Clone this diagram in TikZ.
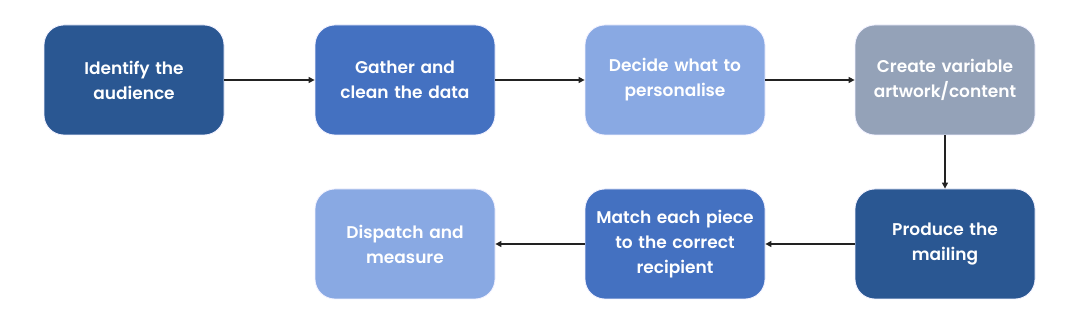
\documentclass[tikz,border=0pt]{standalone}
\usepackage{fontspec}
\setmainfont{Poppins}[BoldFont={* SemiBold}]
\usetikzlibrary{arrows.meta}
\definecolor{cdark}{HTML}{2A5792}
\definecolor{cmid}{HTML}{4471C1}
\definecolor{clight}{HTML}{89A9E3}
\definecolor{cgray}{HTML}{94A2B8}
\definecolor{carrow}{HTML}{222222}
\tikzset{
  stepbox/.style={draw=blue!6, line width=0.8pt, rounded corners=20pt, minimum width=180pt, minimum height=110pt,
    inner sep=2pt, text width=176pt, align=center, text=white, font=\fontsize{17}{25}\selectfont\bfseries},
  conn/.style={draw=carrow, line width=1.3pt, -{Triangle[length=6pt,width=6pt]}}
}
\begin{document}
\begin{tikzpicture}[x=1pt,y=1pt]
\useasboundingbox (0,0) rectangle (1080,321);
\node[stepbox, fill=cdark] (a) at (134,241) {Identify the\\audience};
\node[stepbox, fill=cmid] (b) at (405,241) {Gather and\\clean the data};
\node[stepbox, fill=clight] (c) at (675,241) {Decide what to\\personalise};
\node[stepbox, fill=cgray] (d) at (945,241) {Create variable\\artwork/content};
\node[stepbox, fill=cdark] (e) at (945,77) {Produce the\\mailing};
\node[stepbox, fill=cmid] (f) at (675,77) {Match each piece\\to the correct\\recipient};
\node[stepbox, fill=clight] (g) at (405,77) {Dispatch and\\measure};
\draw[conn] (a) -- (b);
\draw[conn] (b) -- (c);
\draw[conn] (c) -- (d);
\draw[conn] (d) -- (e);
\draw[conn] (e) -- (f);
\draw[conn] (f) -- (g);
\end{tikzpicture}
\end{document}
